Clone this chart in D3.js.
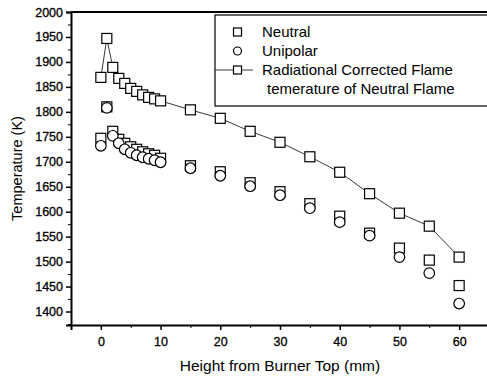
<!DOCTYPE html>
<html>
<meta charset="utf-8">
<style>
body { margin: 0; background: #fff; }
svg { display: block; }
text { font-family: Arial, "Liberation Sans", Helvetica, sans-serif; fill: #000; }
.axis path, .axis line { stroke: #000; }
.legend text { font-size: 15px; }
</style>
<body>
<script src="https://cdn.jsdelivr.net/npm/d3@7"></script>
<script>
// heights above the burner (mm)
var heights = [0, 1, 2, 3, 4, 5, 6, 7, 8, 9, 10, 15, 20, 25, 30, 35, 40, 45, 50, 55, 60];
var neutral = [1747, 1810, 1761, 1745, 1737, 1730, 1725, 1720, 1716, 1713, 1707, 1692, 1680, 1658, 1640, 1616, 1591, 1557, 1527, 1503, 1452];
var unipolar = [1732, 1808, 1752, 1737, 1725, 1718, 1713, 1709, 1706, 1703, 1699, 1687, 1672, 1651, 1633, 1607, 1579, 1552, 1509, 1477, 1416];
var corrected = [1869, 1947, 1889, 1867, 1857, 1847, 1841, 1834, 1829, 1826, 1822, 1804, 1787, 1761, 1739, 1710, 1679, 1636, 1597, 1571, 1509];
var xTicks = [0, 10, 20, 30, 40, 50, 60];
var yTicks = [1400, 1450, 1500, 1550, 1600, 1650, 1700, 1750, 1800, 1850, 1900, 1950, 2000];

var W = 487, H = 376;
var margin = {top: 12, left: 71, bottom: 51};
var x = d3.scaleLinear().domain([-5, 65]).range([margin.left, 489]);
var y = d3.scaleLinear().domain([1373, 2000]).range([H - margin.bottom, margin.top]);

var svg = d3.select("body").append("svg")
  .attr("width", W)
  .attr("height", H);

// minor ticks
var minorX = d3.range(-5, 66, 5).filter(function(d) { return d % 10 !== 0; });
var minorY = d3.range(1375, 2000, 50);

svg.append("g")
  .attr("class", "axis")
  .attr("transform", "translate(0," + y(1373) + ")")
  .call(d3.axisBottom(x).tickValues(minorX).tickSize(3).tickFormat(""))
  .call(function(g) { g.select(".domain").remove(); });
svg.append("g")
  .attr("class", "axis")
  .attr("transform", "translate(" + margin.left + ",0)")
  .call(d3.axisLeft(y).tickValues(minorY).tickSize(3).tickFormat(""))
  .call(function(g) { g.select(".domain").remove(); });

// major axes
var xAxis = svg.append("g")
  .attr("class", "axis")
  .attr("transform", "translate(0," + y(1373) + ")")
  .call(d3.axisBottom(x).tickValues(xTicks).tickSize(5).tickPadding(7));
xAxis.select(".domain").attr("stroke-width", 2);
xAxis.selectAll("line").attr("stroke-width", 1.5);
xAxis.selectAll("text").style("font-size", "12.5px").attr("stroke", "#000").attr("stroke-width", 0.3);

var yAxis = svg.append("g")
  .attr("class", "axis")
  .attr("transform", "translate(" + margin.left + ",0)")
  .call(d3.axisLeft(y).tickValues(yTicks).tickSize(5).tickPadding(3).tickFormat(d3.format("d")));
yAxis.select(".domain").attr("stroke-width", 2);
yAxis.selectAll("line").attr("stroke-width", 1.5);
yAxis.selectAll("text").style("font-size", "12.5px").attr("stroke", "#000").attr("stroke-width", 0.3);

// top frame
svg.append("line")
  .attr("x1", margin.left).attr("x2", W)
  .attr("y1", y(2000)).attr("y2", y(2000))
  .attr("stroke", "#000").attr("stroke-width", 2);

svg.append("text")
  .attr("transform", "translate(22," + ((y(2000) + y(1373)) / 2) + ") rotate(-90)")
  .attr("text-anchor", "middle")
  .style("font-size", "14.5px")
  .text("Temperature (K)");
svg.append("text")
  .attr("x", (x(-5) + x(65)) / 2)
  .attr("y", 371)
  .attr("text-anchor", "middle")
  .style("font-size", "15.5px")
  .text("Height from Burner Top (mm)");

function squares(g, vals) {
  g.selectAll("rect")
    .data(vals)
    .enter().append("rect")
    .attr("x", function(d, i) { return x(heights[i]) - 5; })
    .attr("y", function(d) { return y(d) - 5; })
    .attr("width", 10).attr("height", 10)
    .attr("fill", "#fff").attr("stroke", "#000").attr("stroke-width", 1.2);
}

var plot = svg.append("g");

// corrected series with line
plot.append("path")
  .datum(corrected)
  .attr("fill", "none")
  .attr("stroke", "#222")
  .attr("stroke-width", 0.9)
  .attr("d", d3.line().x(function(d, i) { return x(heights[i]); }).y(function(d) { return y(d); }));
squares(plot.append("g"), corrected);

squares(plot.append("g"), neutral);
plot.append("g").selectAll("circle")
  .data(unipolar)
  .enter().append("circle")
  .attr("cx", function(d, i) { return x(heights[i]); })
  .attr("cy", function(d) { return y(d); })
  .attr("r", 5.3)
  .attr("fill", "#fff").attr("stroke", "#000").attr("stroke-width", 1.2);

// legend
var lg = svg.append("g").attr("class", "legend");
lg.append("rect")
  .attr("x", 215).attr("y", 15).attr("width", 280).attr("height", 91)
  .attr("fill", "#fff").attr("stroke", "#000").attr("stroke-width", 1.2);
lg.append("rect").attr("x", 233.5).attr("y", 28).attr("width", 8).attr("height", 8)
  .attr("fill", "#fff").attr("stroke", "#000").attr("stroke-width", 1.2);
lg.append("circle").attr("cx", 237.5).attr("cy", 51).attr("r", 4)
  .attr("fill", "#fff").attr("stroke", "#000").attr("stroke-width", 1.2);
lg.append("line").attr("x1", 215).attr("x2", 253).attr("y1", 70).attr("y2", 70)
  .attr("stroke", "#222").attr("stroke-width", 0.9);
lg.append("rect").attr("x", 233.5).attr("y", 66).attr("width", 8).attr("height", 8)
  .attr("fill", "#fff").attr("stroke", "#000").attr("stroke-width", 1.2);
lg.append("text").attr("x", 262).attr("y", 37).text("Neutral");
lg.append("text").attr("x", 262).attr("y", 56).text("Unipolar");
lg.append("text").attr("x", 262).attr("y", 75).text("Radiational Corrected Flame");
lg.append("text").attr("x", 267).attr("y", 94).text("temerature of Neutral Flame");
</script>
</body>
</html>
